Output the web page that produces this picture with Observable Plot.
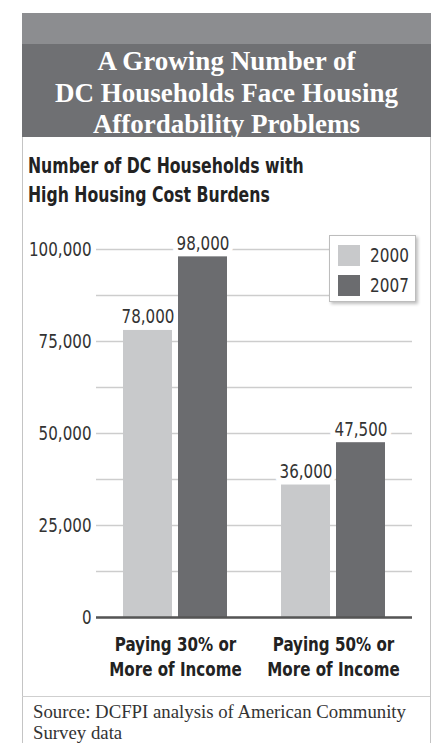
<!DOCTYPE html>
<html>
<head>
<meta charset="utf-8">
<script src="https://cdn.jsdelivr.net/npm/d3@7"></script>
<script src="https://cdn.jsdelivr.net/npm/@observablehq/plot@0.6"></script>
<style>
  html, body { margin: 0; padding: 0; background: #fff; }
  body { width: 436px; height: 743px; position: relative; overflow: hidden; }
  .abs { position: absolute; }
  #panel { left: 22px; top: 13px; width: 407px; height: 740px; border-left: 1px solid #c4c4c4; border-right: 1px solid #c4c4c4; }
  #band1 { left: 22px; top: 13px; width: 409px; height: 31px; background: #8c8d90; }
  #band2 { left: 22px; top: 44px; width: 409px; height: 93px; background: #6f7073; }
  #title { left: 22px; top: 46px; width: 409px; text-align: center; color: #fff;
           font-family: "Liberation Serif", "DejaVu Serif", serif; font-weight: bold; font-size: 27px; line-height: 31.5px; }
  #subtitle { left: 28px; top: 152px; color: #222; font-family: "DejaVu Sans Condensed", "DejaVu Sans", sans-serif;
              font-weight: bold; font-size: 21px; line-height: 29px; white-space: nowrap;
              transform: scaleX(0.83); transform-origin: left top; }
  #chart { left: 0; top: 220px; }
  #legend { left: 329px; top: 235px; width: 87px; height: 67px; background: #fff; border: 1px solid #bdbdbd;
            box-shadow: 2px 2px 3px rgba(0,0,0,0.25); box-sizing: border-box; }
  .lg-row { position: absolute; left: 8px; height: 22px; display: flex; align-items: center; }
  .lg-sw { width: 22px; height: 21px; }
  .lg-tx { margin-left: 10px; font-family: "DejaVu Sans Condensed", "DejaVu Sans", sans-serif; font-size: 20px; color: #333;
           display: inline-block; transform: scaleX(0.85); transform-origin: left center; }
  #sep { left: 22px; top: 696px; width: 408px; height: 1px; background: #cfcfcf; }
  #source { left: 33px; top: 701px; font-family: "Liberation Serif", "DejaVu Serif", serif; font-size: 18.8px; line-height: 21px; color: #333; white-space: nowrap; }
</style>
</head>
<body>
<div id="panel" class="abs"></div>
<div id="band1" class="abs"></div>
<div id="band2" class="abs"></div>
<div id="title" class="abs">A Growing Number of<br>DC Households Face Housing<br>Affordability Problems</div>
<div id="subtitle" class="abs">Number of DC Households with<br>High Housing Cost Burdens</div>
<div id="chart" class="abs"></div>
<div id="legend" class="abs"></div>
<div id="sep" class="abs"></div>
<div id="source" class="abs">Source: DCFPI analysis of American Community<br>Survey data</div>
<script>
// ---- data ----
const categories = ["Paying 30% or\nMore of Income", "Paying 50% or\nMore of Income"];
const years = ["2000", "2007"];
const values2000 = [78000, 36000];
const values2007 = [98000, 47500];
const yTicks = [0, 25000, 50000, 75000, 100000];
const gridTicks = [0, 12500, 25000, 37500, 50000, 62500, 75000, 87500, 100000];
const colors = ["#c8c9cb", "#6b6c6f"];

const table = categories.flatMap((c, i) => [
  {category: c, year: years[0], value: values2000[i]},
  {category: c, year: years[1], value: values2007[i]}
]);
const fmt = d3.format(",");
const SANS = "'DejaVu Sans Condensed', 'DejaVu Sans', sans-serif";

const chart = Plot.plot({
  width: 436,
  height: 460,
  marginTop: 29,
  marginBottom: 63,
  marginLeft: 95,
  marginRight: 24,
  style: {fontFamily: SANS, fontSize: "20px", color: "#333", background: "transparent", overflow: "visible"},
  fx: {domain: categories, padding: 0, label: null},
  x: {domain: years, paddingInner: 0.108, paddingOuter: 0.482, axis: null},
  y: {domain: [0, 100000], label: null},
  color: {domain: years, range: colors},
  marks: [
    Plot.ruleY(gridTicks, {stroke: "#cdcdcd", strokeWidth: 1.6}),
    Plot.text(table, {fx: "category", x: "year", y: "value", text: d => fmt(d.value), dy: -13.5,
      fontSize: 20, fill: "#333", stroke: "white", strokeWidth: 12, paintOrder: "stroke"}),
    Plot.barY(table, {fx: "category", x: "year", y: "value", fill: "year"}),
    Plot.ruleY([0], {stroke: "#555", strokeWidth: 2.5}),
    Plot.axisY({ticks: yTicks, tickFormat: d => fmt(d), tickSize: 0, tickPadding: 5, fontSize: 20, label: null, fill: "#333"}),
    Plot.axisFx({anchor: "bottom", tickSize: 0, tickPadding: 16, fontSize: 20, fontWeight: "bold",
      lineHeight: 1.25, label: null, fill: "#222"})
  ]
});
document.getElementById("chart").appendChild(chart);

// emulate the condensed typeface of the original: narrow each rendered text run
function condense(root, k) {
  root.querySelectorAll("text").forEach(t => {
    const spans = t.querySelectorAll("tspan");
    const runs = spans.length ? Array.from(spans) : [t];
    runs.forEach(el => {
      const len = el.getComputedTextLength();
      if (len > 0) {
        el.setAttribute("textLength", (len * k).toFixed(1));
        el.setAttribute("lengthAdjust", "spacingAndGlyphs");
      }
    });
  });
}
condense(chart, 0.84);

// legend from the same data arrays
const legend = document.getElementById("legend");
years.forEach((y, i) => {
  const row = document.createElement("div");
  row.className = "lg-row";
  row.style.top = (8 + i * 30) + "px";
  const sw = document.createElement("div");
  sw.className = "lg-sw";
  sw.style.background = colors[i];
  const tx = document.createElement("span");
  tx.className = "lg-tx";
  tx.textContent = y;
  row.appendChild(sw);
  row.appendChild(tx);
  legend.appendChild(row);
});
</script>
</body>
</html>
